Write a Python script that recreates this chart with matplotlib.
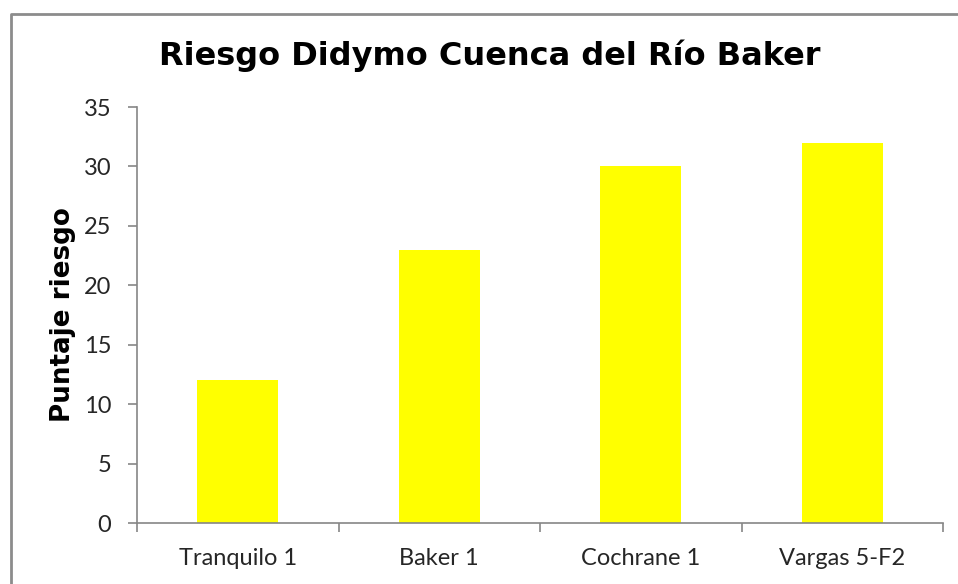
import matplotlib
matplotlib.use("Agg")
import matplotlib.pyplot as plt
from matplotlib.lines import Line2D

categories = ["Tranquilo 1", "Baker 1", "Cochrane 1", "Vargas 5-F2"]
scores = [12, 23, 30, 32]
y_ticks = [0, 5, 10, 15, 20, 25, 30, 35]

plt.rcParams["font.family"] = ["Lato", "DejaVu Sans"]

W, H = 958, 584
fig = plt.figure(figsize=(W / 100, H / 100), dpi=100)
ax = fig.add_axes([137 / W, 1 - 523 / H, (943 - 137) / W, (523 - 107) / H])

x = list(range(len(categories)))
ax.bar(x, scores, width=0.4, color="#FFFF00", zorder=2)

ax.set_xlim(-0.5, len(categories) - 0.5)
ax.set_ylim(0, 35)
ax.set_yticks(y_ticks)
ax.set_yticklabels([str(v) for v in y_ticks])

# Category labels at centres, tick marks at the boundaries
ax.set_xticks([i - 0.5 for i in range(len(categories) + 1)])
ax.set_xticklabels([""] * (len(categories) + 1))
ax.set_xticks(x, minor=True)
ax.set_xticklabels(categories, minor=True)
ax.tick_params(axis="x", which="minor", length=0, pad=18, labelsize=17, labelcolor="#262626")
ax.tick_params(axis="x", which="major", length=6.5, width=1.2, color="#868686", direction="out")
ax.tick_params(axis="y", length=6.5, width=1.2, color="#868686", direction="out", pad=12,
               labelsize=17, labelcolor="#262626")

for side in ["top", "right"]:
    ax.spines[side].set_visible(False)
for side in ["left", "bottom"]:
    ax.spines[side].set_color("#868686")
    ax.spines[side].set_linewidth(1.2)

fig.text(63 / W, 1 - 315 / H, "Puntaje riesgo", rotation=90,
         fontsize=18.8, fontweight="bold", family="DejaVu Sans",
         ha="center", va="center", color="black")

fig.text(490 / W, 1 - 56 / H, "Riesgo Didymo Cuenca del Río Baker",
         fontsize=23, fontweight="bold", family="DejaVu Sans",
         ha="center", va="center", color="black")

# Chart-area frame (left and top edges)
fig.add_artist(Line2D([11 / W, 11 / W, 1.0], [0.0, 1 - 14 / H, 1 - 14 / H],
                      transform=fig.transFigure, color="#8C8C8C", linewidth=2))

fig.savefig("out.png", dpi=100)
